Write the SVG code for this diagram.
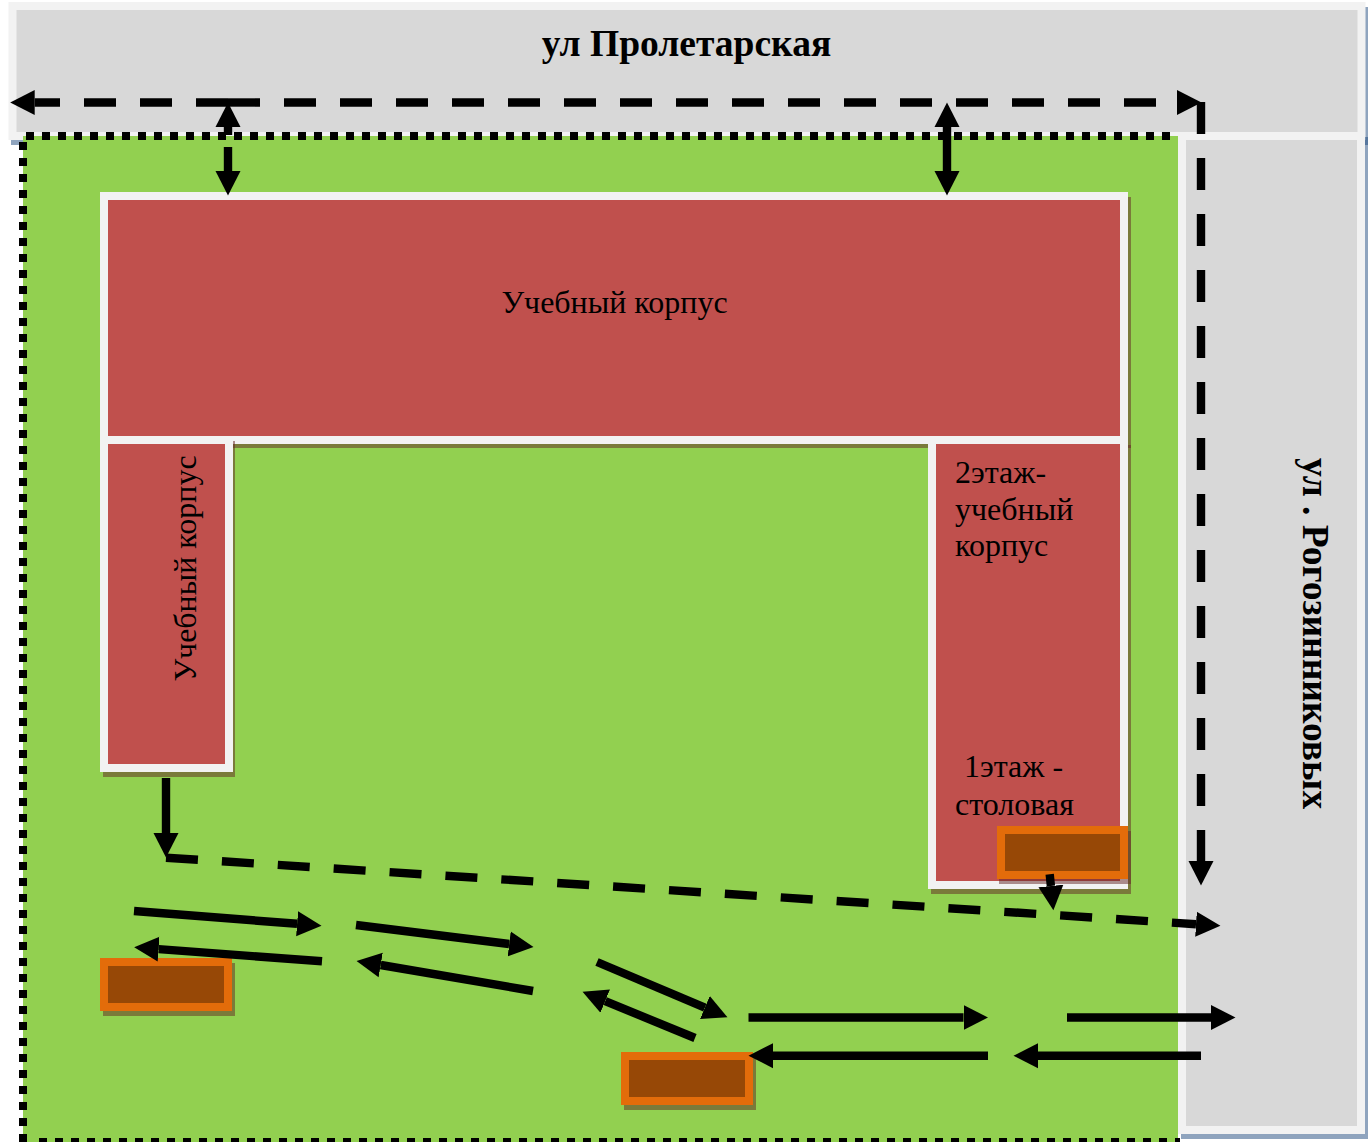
<svg xmlns="http://www.w3.org/2000/svg" width="1371" height="1142" viewBox="0 0 1371 1142">
<style>
.band{fill:#d8d8d8;stroke:#f2f2f2;stroke-width:8}
.bld{fill:#c0504d;stroke:#f2f2f2;stroke-width:8}
.ent{fill:#974806;stroke:#e36c0a;stroke-width:8}
.sh{fill:#622423;opacity:.5}
.rsh{fill:#1f497d;opacity:.5}
.dot{fill:none;stroke:#000;stroke-width:8;stroke-dasharray:8 8}
.ar{fill:none;stroke:#000;stroke-width:8.4;marker-end:url(#h)}
.da{stroke-dasharray:32 24}
text{font-family:"Liberation Serif","Times New Roman",serif;fill:#000}
.t{font-size:32px}
.b{font-size:37.5px;font-weight:bold}
</style>
<defs>
<marker id="h" markerUnits="userSpaceOnUse" markerWidth="25" markerHeight="26" refX="0" refY="13" orient="auto-start-reverse"><path d="M0 0.5L24.5 13L0 25.5Z" fill="#000"/></marker>
</defs>
<rect width="1371" height="1142" fill="#fff"/>
<g id="road-proletarskaya">
<rect class="rsh" x="11" y="7" width="1357" height="138"/>
<rect class="band" x="12.5" y="6" width="1349" height="130"/>
<text class="b" x="686.5" y="56" text-anchor="middle">ул Пролетарская</text>
</g>
<g id="road-rogozinnikovykh">
<rect class="rsh" x="1181" y="137" width="187" height="1002"/>
<rect class="band" x="1182" y="136" width="179" height="994"/>
<text class="b" transform="translate(1303 633.5) rotate(90)" text-anchor="middle">ул . Рогозинниковых</text>
</g>
<g id="site">
<rect x="23" y="136" width="1155" height="1006" fill="#92d050"/>
<path class="dot" d="M26 136H1178"/>
<path class="dot" d="M23 142V1142"/>
<path class="dot" d="M39 1142H1180"/>
</g>
<g id="building-main">
<rect class="sh" x="107" y="197" width="1024" height="251"/>
<rect class="bld" x="104" y="196" width="1020" height="244"/>
<text class="t" x="614.5" y="313" text-anchor="middle">Учебный корпус</text>
</g>
<g id="building-left">
<rect class="sh" x="103" y="441" width="132" height="336"/>
<rect class="bld" x="104" y="440" width="125" height="328"/>
<text class="t" transform="translate(196 568.5) rotate(-90)" text-anchor="middle">Учебный корпус</text>
</g>
<g id="building-right">
<rect class="sh" x="931" y="445" width="200" height="449"/>
<rect class="bld" x="932" y="440" width="192" height="445"/>
<text class="t" x="955" y="483">2этаж-</text>
<text class="t" x="955" y="520">учебный</text>
<text class="t" x="955" y="556">корпус</text>
<text class="t" x="964" y="777">1этаж -</text>
<text class="t" x="955" y="815">столовая</text>
</g>
<g id="entrance-right">
<rect class="sh" x="999" y="831" width="132" height="53"/>
<rect class="ent" x="1001" y="830" width="123" height="45"/>
</g>
<g id="entrance-left">
<rect class="sh" x="103" y="963" width="132" height="53"/>
<rect class="ent" x="104" y="962" width="124" height="45"/>
</g>
<g id="entrance-bottom">
<rect class="sh" x="624" y="1057" width="132" height="53"/>
<rect class="ent" x="625" y="1056" width="124" height="45"/>
</g>
<g id="connectors">
<path class="ar da" d="M228 102.5H34.7"/>
<path class="ar da" d="M228 102.5H1177"/>
<path class="ar da" d="M1201 102V861"/>
<path class="ar" d="M228 135V127"/>
<path class="ar" d="M228 147V171"/>
<path class="ar" style="marker-start:url(#h)" d="M947 127V171"/>
<path class="ar" d="M166 778V833"/>
<path class="ar da" d="M166 857.7L1196 924.2"/>
<path class="ar" d="M1049.7 874.3L1050.9 886"/>
<path class="ar" d="M134 911L297.1 923.8"/>
<path class="ar" d="M322 961.3L158.6 949.1"/>
<path class="ar" d="M356 925L509.2 944"/>
<path class="ar" d="M533 991L380.7 965"/>
<path class="ar" d="M597 962L704.9 1007.6"/>
<path class="ar" d="M695 1038L605.2 1001.1"/>
<path class="ar" d="M748.5 1017.5H963.5"/>
<path class="ar" d="M988 1055.7H773"/>
<path class="ar" d="M1067 1017.5H1211"/>
<path class="ar" d="M1201 1055.7H1038"/>
</g>
</svg>
